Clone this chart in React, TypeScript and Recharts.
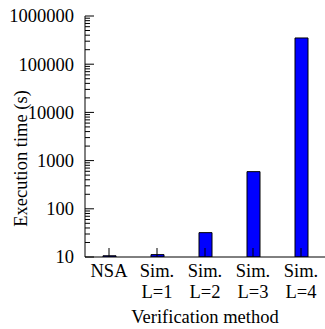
import React from "react";
import { BarChart, Bar, XAxis, YAxis, Label } from "recharts";

const methods = ["NSA", "Sim. L=1", "Sim. L=2", "Sim. L=3", "Sim. L=4"];
const execTimes = [10.6, 11.2, 32, 590, 350000];
const majorTicks = [10, 100, 1000, 10000, 100000, 1000000];
const minorSteps = [2, 3, 4, 5, 6, 7, 8, 9];

const allTicks = [
  ...majorTicks,
  ...majorTicks.slice(0, -1).flatMap((d) => minorSteps.map((m) => d * m)),
].sort((a, b) => a - b);

const data = methods.map((method, i) => ({ method, time: execTimes[i] }));

const textStyle = {
  fontFamily: "'Liberation Serif', serif",
  fontSize: 18.5,
  fill: "#000",
};

// gnuplot-style inward ticks, drawn from the axis position recharts hands over
const LeftTick = (props: any) => {
  const { x, y, payload } = props;
  const major = majorTicks.includes(payload.value);
  return (
    <g>
      <line x1={x} x2={x + (major ? 9 : 5)} y1={y} y2={y} stroke="#000" />
      {major && (
        <text x={x - 11} y={y} dy="0.35em" textAnchor="end" style={textStyle}>
          {payload.value}
        </text>
      )}
    </g>
  );
};

const RightTick = (props: any) => {
  const { x, y, payload } = props;
  const major = majorTicks.includes(payload.value);
  return <line x1={x} x2={x - (major ? 9 : 5)} y1={y} y2={y} stroke="#000" />;
};

const BottomTick = (props: any) => {
  const { x, y, payload } = props;
  const lines = String(payload.value).split(" ");
  return (
    <g>
      <line x1={x} x2={x} y1={y} y2={y - 9} stroke="#000" />
      <text textAnchor="middle" style={textStyle}>
        {lines.map((l, i) => (
          <tspan key={i} x={x} y={y + 20 + i * 21}>
            {l}
          </tspan>
        ))}
      </text>
    </g>
  );
};

const TopTick = (props: any) => {
  const { x, y } = props;
  return <line x1={x} x2={x} y1={y} y2={y + 9} stroke="#000" />;
};

export default function App() {
  return (
    <div>
      <style>{`body{margin:0}`}</style>
      <BarChart width={325} height={329} data={data} margin={{ top: 16, right: 0, bottom: 0, left: 0 }}>
        <XAxis
          dataKey="method"
          xAxisId="bottom"
          height={72}
          interval={0}
          tickSize={0}
          tickMargin={0}
          tick={<BottomTick />}
          axisLine={{ stroke: "#000" }}
        >
          <Label
            content={({ viewBox }: any) => (
              <text
                x={viewBox.x + viewBox.width / 2}
                y={viewBox.y + 66}
                textAnchor="middle"
                style={textStyle}
              >
                Verification method
              </text>
            )}
          />
        </XAxis>
        <XAxis
          dataKey="method"
          xAxisId="top"
          orientation="top"
          height={0}
          interval={0}
          tickSize={0}
          tickMargin={0}
          tick={<TopTick />}
          axisLine={{ stroke: "#000" }}
        />
        <YAxis
          yAxisId="left"
          scale="log"
          domain={[10, 1000000]}
          allowDataOverflow
          ticks={allTicks}
          interval={0}
          width={85}
          tickSize={0}
          tickMargin={0}
          tick={<LeftTick />}
          axisLine={{ stroke: "#000" }}
        >
          <Label
            content={({ viewBox }: any) => {
              const cx = viewBox.x + 21;
              const cy = viewBox.y + viewBox.height / 2 + 22;
              return (
                <text
                  x={cx}
                  y={cy}
                  dy="0.35em"
                  transform={`rotate(-90 ${cx} ${cy})`}
                  textAnchor="middle"
                  style={textStyle}
                >
                  Execution time (s)
                </text>
              );
            }}
          />
        </YAxis>
        <YAxis
          yAxisId="right"
          orientation="right"
          scale="log"
          domain={[10, 1000000]}
          allowDataOverflow
          ticks={allTicks}
          interval={0}
          width={0}
          tickSize={0}
          tickMargin={0}
          tick={<RightTick />}
          axisLine={{ stroke: "#000" }}
        />
        <Bar
          dataKey="time"
          xAxisId="bottom"
          yAxisId="left"
          barSize={13}
          fill="#0000ff"
          stroke="#000"
          strokeWidth={1}
          isAnimationActive={false}
        />
        {/* invisible twin so the mirrored top/right axes get a domain */}
        <Bar
          dataKey="time"
          xAxisId="top"
          yAxisId="right"
          barSize={13}
          fill="none"
          stroke="none"
          isAnimationActive={false}
        />
      </BarChart>
    </div>
  );
}
